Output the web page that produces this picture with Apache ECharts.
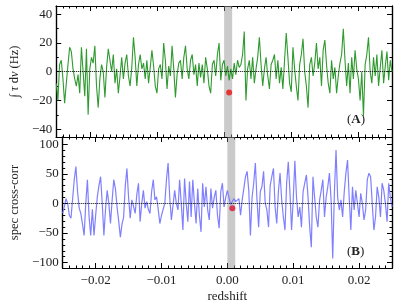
<!DOCTYPE html>
<html>
<head>
<meta charset="utf-8">
<script src="https://cdn.jsdelivr.net/npm/echarts@6/dist/echarts.min.js"></script>
<style>html,body{margin:0;padding:0;background:#fff}#c{width:399px;height:306px}</style>
</head>
<body>
<div id="c"></div>
<script>
// ---- data ----
const zStart = -0.025;
const zStep = 0.00025;
const tauValues = [
-8,-20,5,8,-5,-22,-8,5,17,14,
2,-5,-10,-2,-15,17,0,-17,16,-30,
2,10,6,18,-10,-25,-5,5,0,-18,
3,16,8,0,12,-8,2,-15,-3,10,
-5,6,12,-3,-10,3,24,10,-10,5,
12,2,6,-5,8,-8,3,15,4,-10,
-15,2,5,-5,20,8,-12,4,-3,18,
2,-18,-2,6,8,-5,10,18,2,-5,
8,12,-2,5,-10,6,-4,5,-8,10,
2,-10,-15,5,8,-3,12,20,-6,5,
8,-3,4,-6,2,-5,6,-2,8,3,
5,12,28,-20,2,8,-5,10,-8,2,
10,24,5,-10,2,10,-3,-12,5,8,
12,-5,8,-8,3,-12,8,27,10,-8,
-14,17,2,-10,-20,5,12,23,0,-10,
-25,5,10,-3,6,20,2,10,-10,15,
22,5,-8,-15,8,-5,3,-15,-3,6,
12,30,8,-10,6,-15,10,-5,15,2,
-5,-20,0,-31,5,12,24,0,-8,10,
-3,12,-10,3,15,-8,4,14,-6,8,0
];
const corrValues = [
-17,-5,8,0,-20,-25,-22,40,62,20,
-8,-17,-35,-54,0,40,-23,-54,-10,-54,
-20,11,30,45,0,-54,-10,22,0,-34,
5,40,25,-6,-30,-57,-35,-23,30,59,
10,-25,6,-5,-17,15,34,-31,0,22,
-8,3,-10,-17,20,40,6,11,-10,-34,
-20,-17,0,40,68,10,-28,-31,22,0,
-11,40,0,-45,42,0,-31,37,-23,40,
0,-34,25,-20,-48,34,-6,28,-10,-28,
25,-8,10,22,-20,-42,20,34,-6,10,
22,10,-2,-5,8,3,5,8,-20,6,
25,45,54,22,-54,10,34,68,6,-40,
20,28,54,0,-11,-40,30,45,59,-6,
-34,20,51,6,-23,-45,34,70,20,-45,
6,72,10,-23,-6,-40,20,34,48,11,
-40,-74,45,10,-23,-40,5,22,40,-23,
10,28,51,6,-93,17,90,10,-11,6,
-23,20,51,73,10,-45,28,-11,22,0,
-23,17,0,-28,-11,40,51,45,0,-45,
-23,28,10,-23,34,22,0,-31,34,10,-6
];
const bandRange = [0.0, 0.0012];
const peakZ = 0.00075;
const peakA = -14.4;
const peakB = -8;
const xRange = [-0.025, 0.025];
const yRangeA = [-45.5, 45.8];
const yRangeB = [-109, 112];
const xMajor = [-0.02, -0.01, 0.0, 0.01, 0.02];
const yMajorA = [-40, -20, 0, 20, 40];
const yMinorA = [-40, -30, -20, -10, 0, 10, 20, 30, 40];
const yMajorB = [-100, -50, 0, 50, 100];
const yMinorB = [-100, -90, -80, -70, -60, -50, -40, -30, -20, -10, 0, 10, 20, 30, 40, 50, 60, 70, 80, 90, 100];

// ---- build ----
const xMinor = [];
for (let k = -24; k <= 24; k++) xMinor.push(k / 1000);
function pairs(vals) { return vals.map((v, i) => [+(zStart + i * zStep).toFixed(6), v]); }
const SERIF = 'Liberation Serif';
const minus = s => s.replace('-', '\u2212');
const fmtX = v => Math.abs(v) < 1e-9 ? '0.00' : minus(v.toFixed(2));
const fmtY = v => minus(String(Math.round(v)));

function xAx(grid, pos, ticks, len, showLabel, name) {
  const a = {
    type: 'value', gridIndex: grid, position: pos, min: xRange[0], max: xRange[1],
    axisLine: { show: true, onZero: false, lineStyle: { color: '#000', width: 1.2 } },
    axisTick: { show: true, inside: true, length: len, customValues: ticks, lineStyle: { color: '#000', width: 1 } },
    axisLabel: { show: showLabel, customValues: xMajor, formatter: fmtX, margin: 6, color: '#222', fontFamily: SERIF, fontSize: 13 },
    splitLine: { show: false }
  };
  if (name) {
    a.name = name; a.nameLocation = 'middle'; a.nameGap = 22;
    a.nameTextStyle = { fontFamily: SERIF, fontSize: 13, color: '#222' };
  }
  return a;
}
function yAx(grid, pos, range, ticks, len, labels, name, gap) {
  const a = {
    type: 'value', gridIndex: grid, position: pos, min: range[0], max: range[1],
    axisLine: { show: true, onZero: false, lineStyle: { color: '#000', width: 1.2 } },
    axisTick: { show: true, inside: true, length: len, customValues: ticks, lineStyle: { color: '#000', width: 1 } },
    axisLabel: { show: !!labels, customValues: labels || ticks, formatter: fmtY, margin: 4, color: '#222', fontFamily: SERIF, fontSize: 13 },
    splitLine: { show: false }
  };
  if (name) {
    a.name = name; a.nameLocation = 'middle'; a.nameGap = gap;
    a.nameTextStyle = { fontFamily: SERIF, fontSize: 12.5, color: '#222',
      rich: { i: { fontFamily: SERIF, fontStyle: 'italic', fontSize: 12.5, color: '#222' }, n: { fontFamily: SERIF, fontSize: 12.5, color: '#222' } } };
  }
  return a;
}

const zeroLine = { silent: true, symbol: 'none', label: { show: false },
  lineStyle: { type: 'dotted', color: '#000', width: 1 }, data: [{ yAxis: 0 }] };
const band = { silent: true, itemStyle: { color: 'rgba(150,150,150,0.5)' },
  data: [[{ xAxis: bandRange[0] }, { xAxis: bandRange[1] }]] };

const option = {
  animation: false,
  grid: [
    { left: 55, right: 7, top: 6, height: 131 },
    { left: 55, right: 7, top: 137, height: 131 }
  ],
  xAxis: [
    xAx(0, 'bottom', xMajor, 5, false), xAx(0, 'bottom', xMinor, 2.5, false),
    xAx(0, 'top', xMajor, 5, false), xAx(0, 'top', xMinor, 2.5, false),
    xAx(1, 'bottom', xMajor, 5, true, 'redshift'), xAx(1, 'bottom', xMinor, 2.5, false),
    xAx(1, 'top', xMajor, 5, false), xAx(1, 'top', xMinor, 2.5, false)
  ],
  yAxis: [
    yAx(0, 'left', yRangeA, yMajorA, 5, yMajorA, '{n|\u222B }{i|\u03C4}{n| d}{i|\u03BD}{n| (Hz)}', 29),
    yAx(0, 'left', yRangeA, yMinorA, 2.5, null),
    yAx(0, 'right', yRangeA, yMajorA, 5, null), yAx(0, 'right', yRangeA, yMinorA, 2.5, null),
    yAx(1, 'left', yRangeB, yMajorB, 5, yMajorB, 'spec cross-corr', 36),
    yAx(1, 'left', yRangeB, yMinorB, 2.5, null),
    yAx(1, 'right', yRangeB, yMajorB, 5, null), yAx(1, 'right', yRangeB, yMinorB, 2.5, null)
  ],
  series: [
    { type: 'line', xAxisIndex: 0, yAxisIndex: 0, data: pairs(tauValues), showSymbol: false,
      lineStyle: { color: '#2f9a2f', width: 1.1 }, markLine: zeroLine, markArea: band, z: 2 },
    { type: 'scatter', xAxisIndex: 0, yAxisIndex: 0, data: [[peakZ, peakA]], symbolSize: 6,
      itemStyle: { color: '#ee1111' }, z: 5 },
    { type: 'line', xAxisIndex: 4, yAxisIndex: 4, data: pairs(corrValues), showSymbol: false,
      lineStyle: { color: '#8080ff', width: 1.2 }, markLine: zeroLine, markArea: band, z: 2 },
    { type: 'scatter', xAxisIndex: 4, yAxisIndex: 4, data: [[peakZ, peakB]], symbolSize: 6,
      itemStyle: { color: '#dd1133' }, z: 5 }
  ],
  graphic: [
    { type: 'text', left: 347, top: 113, style: { text: '{n|(}{b|A}{n|)}', rich: {
      n: { fontFamily: SERIF, fontSize: 13, fill: '#222' }, b: { fontFamily: SERIF, fontSize: 13, fontWeight: 'bold', fill: '#222' } } } },
    { type: 'text', left: 347, top: 245, style: { text: '{n|(}{b|B}{n|)}', rich: {
      n: { fontFamily: SERIF, fontSize: 13, fill: '#222' }, b: { fontFamily: SERIF, fontSize: 13, fontWeight: 'bold', fill: '#222' } } } }
  ]
};
const chart = echarts.init(document.getElementById('c'), null, { renderer: 'canvas' });
chart.setOption(option);
</script>
</body>
</html>
